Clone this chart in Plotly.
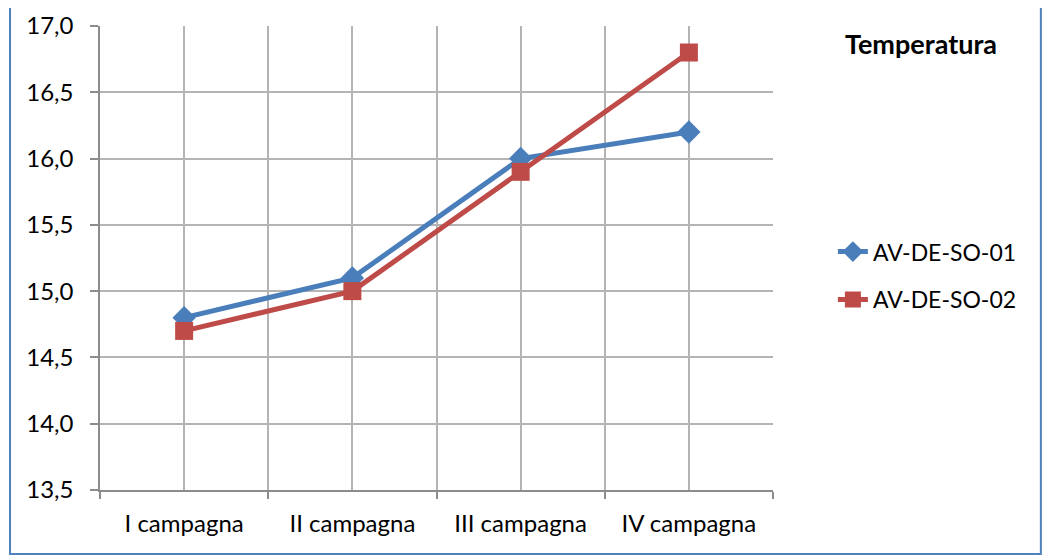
import plotly.graph_objects as go

categories = ["I campagna", "II campagna", "III campagna", "IV campagna"]
series1_name = "AV-DE-SO-01"
series1 = [14.8, 15.1, 16.0, 16.2]
series2_name = "AV-DE-SO-02"
series2 = [14.7, 15.0, 15.9, 16.8]
title_text = "Temperatura"

xpos = list(range(len(categories)))
FONT = "Lato, 'Liberation Sans', sans-serif"

fig = go.Figure()
fig.add_trace(go.Scatter(
    x=xpos, y=series1, name=series1_name, mode="lines+markers",
    line=dict(color="#4A7EBB", width=5),
    marker=dict(symbol="diamond", size=18, color="#4A7EBB"),
    legendgroup="a",
))
fig.add_trace(go.Scatter(
    x=xpos, y=series2, name=series2_name, mode="lines+markers",
    line=dict(color="#BE4B48", width=5),
    marker=dict(symbol="square", size=18, color="#BE4B48"),
    legendgroup="b",
))

bounds = [i - 0.5 for i in range(len(categories) + 1)]

fig.update_layout(
    width=1056, height=556,
    margin=dict(l=92, r=291, t=18, b=74),
    paper_bgcolor="white", plot_bgcolor="white",
    font=dict(family=FONT, size=23, color="black"),
    separators=",.",
    showlegend=True,
    legend=dict(x=1.089, y=0.462, xanchor="left", yanchor="middle",
                font=dict(size=23), tracegroupgap=15, bgcolor="rgba(0,0,0,0)"),
    xaxis=dict(
        range=[-0.5, len(categories) - 0.5],
        tickvals=xpos, ticktext=categories, tickfont=dict(size=24),
        showgrid=True, gridcolor="#B4B4B4", gridwidth=1.5,
        ticks="", showline=True, linecolor="#8C8C8C", linewidth=1.5,
        ticklabelstandoff=11, automargin=False,
        zeroline=False,
        minor=dict(tickvals=bounds, showgrid=True, gridcolor="#B4B4B4", gridwidth=1.5,
                   ticks="outside", ticklen=7, tickcolor="#8C8C8C", tickwidth=1.5),
    ),
    yaxis=dict(
        range=[13.5, 17.0], dtick=0.5, tick0=13.5, tickformat=".1f",
        tickfont=dict(size=24),
        showgrid=True, gridcolor="#B4B4B4", gridwidth=1.5,
        ticks="outside", ticklen=8, tickcolor="#8C8C8C", tickwidth=1.5,
        showline=True, linecolor="#8C8C8C", linewidth=1.5,
        ticklabelstandoff=12, zeroline=False, automargin=False,
    ),
    annotations=[dict(
        text="<b>" + title_text + "</b>", xref="paper", yref="paper",
        x=1.22, y=0.963, xanchor="center", yanchor="middle", showarrow=False,
        font=dict(size=27, color="black"),
    )],
    shapes=[dict(
        type="rect", xref="paper", yref="paper",
        x0=-0.1337, x1=1.398, y0=-0.138, y1=1.07,
        line=dict(color="#4F81BD", width=2), layer="below",
    )],
)

fig.write_html("out.html")
